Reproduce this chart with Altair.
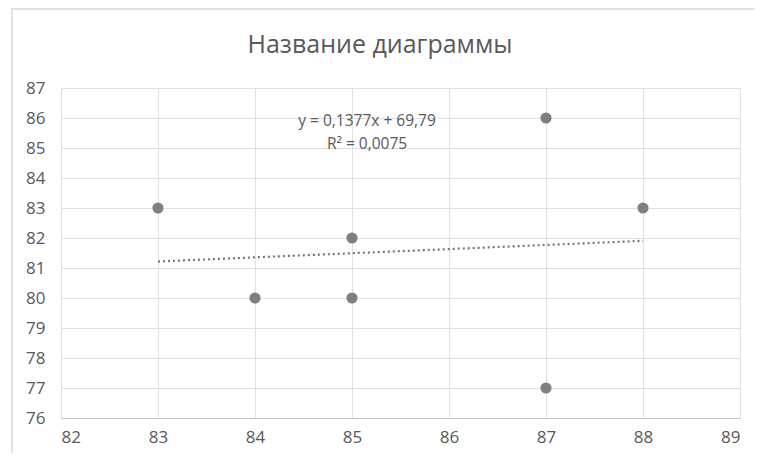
import altair as alt
import pandas as pd

x_vals = [83, 84, 85, 85, 87, 87, 88]
y_vals = [83, 80, 82, 80, 86, 77, 83]
x_ticks = [82, 83, 84, 85, 86, 87, 88, 89]
y_ticks = [76, 77, 78, 79, 80, 81, 82, 83, 84, 85, 86, 87]
title_text = "Название диаграммы"
eq_line1 = "y = 0,1377x + 69,79"
eq_line2 = "R² = 0,0075"

df = pd.DataFrame({"x": x_vals, "y": y_vals})

FONT = "Open Sans"
GREY_TEXT = "#595959"

xs = alt.Scale(domain=[82, 89], nice=False, zero=False)
ys = alt.Scale(domain=[76, 87], nice=False, zero=False)

xax = alt.Axis(values=x_ticks, format="d", title=None, grid=True, gridColor="#e0e0e0",
               domainColor="#c8c8c8", tickSize=0, labelPadding=11, labelOverlap=False,
               labelFontSize=17, labelColor=GREY_TEXT, labelFont=FONT)
yax = alt.Axis(values=y_ticks, format="d", title=None, grid=True, gridColor="#e0e0e0",
               domain=False, tickSize=0, labelPadding=16, labelOverlap=False,
               labelFontSize=17, labelColor=GREY_TEXT, labelFont=FONT)

base = alt.Chart(df)

border = alt.Chart(pd.DataFrame({"a": [0]})).mark_rect(
    fill=None, stroke="#d9d9d9", strokeWidth=1.5
).encode(x=alt.value(-49), x2=alt.value(720), y=alt.value(-79), y2=alt.value(400))

points = base.mark_circle(size=125, color="#7f7f7f", opacity=1).encode(
    x=alt.X("x:Q", scale=xs, axis=xax),
    y=alt.Y("y:Q", scale=ys, axis=yax),
)

trend = base.transform_regression("x", "y").mark_line(
    color="#767676", strokeWidth=2.2, strokeDash=[2, 3]
).encode(x=alt.X("x:Q", scale=xs, axis=xax), y=alt.Y("y:Q", scale=ys, axis=yax))

title = alt.Chart(pd.DataFrame({"t": [title_text]})).mark_text(
    font=FONT, fontSize=25, color=GREY_TEXT, align="center", baseline="middle"
).encode(x=alt.value(319), y=alt.value(-43), text="t:N")

eq1 = alt.Chart(pd.DataFrame({"t": [eq_line1]})).mark_text(
    font=FONT, fontSize=15.5, color=GREY_TEXT, align="center", baseline="middle"
).encode(x=alt.value(306), y=alt.value(33), text="t:N")
eq2 = alt.Chart(pd.DataFrame({"t": [eq_line2]})).mark_text(
    font=FONT, fontSize=15.5, color=GREY_TEXT, align="center", baseline="middle"
).encode(x=alt.value(306), y=alt.value(56), text="t:N")

chart = alt.layer(border, trend, points, title, eq1, eq2).properties(
    width=679, height=330,
    autosize=alt.AutoSizeParams(type="none"),
    padding={"left": 53, "top": 80, "right": 14, "bottom": 35},
).configure_view(stroke=None).configure(background="white")

chart.save("out.html", embed_options={"renderer": "svg", "actions": False})
